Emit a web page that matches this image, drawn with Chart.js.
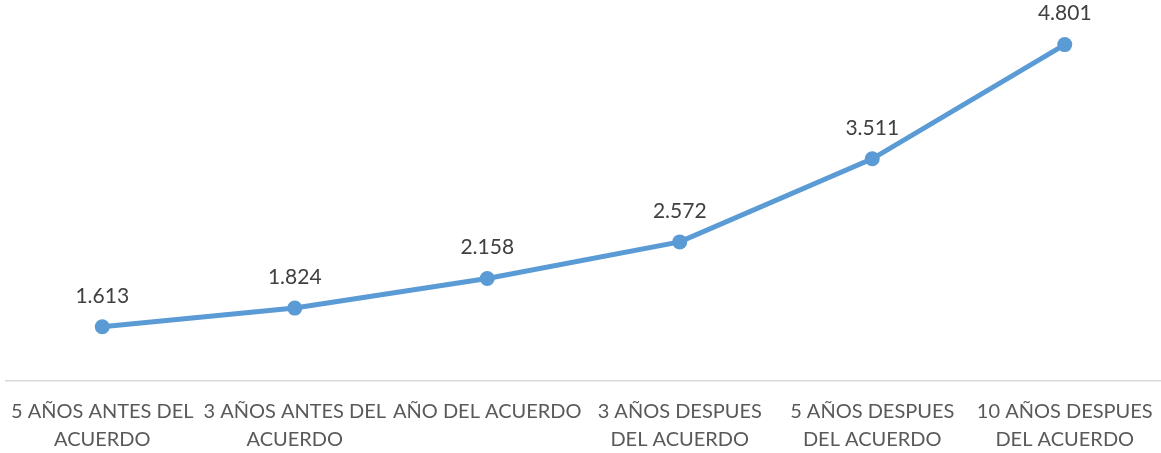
<!DOCTYPE html>
<html>
<head>
<meta charset="utf-8">
<script src="https://cdn.jsdelivr.net/npm/chart.js@4/dist/chart.umd.min.js"></script>
<style>
html,body{margin:0;padding:0;background:#fff;overflow:hidden;}
#wrap{width:1161px;height:453px;position:relative;}
canvas{display:block;}
</style>
</head>
<body>
<div id="wrap"><canvas id="c"></canvas></div>
<script>
const categories = [
  ["5 AÑOS ANTES DEL", "ACUERDO"],
  ["3 AÑOS ANTES DEL", "ACUERDO"],
  ["AÑO DEL ACUERDO"],
  ["3 AÑOS DESPUES", "DEL ACUERDO"],
  ["5 AÑOS DESPUES", "DEL ACUERDO"],
  ["10 AÑOS DESPUES", "DEL ACUERDO"]
];
const values = [1.613, 1.824, 2.158, 2.572, 3.511, 4.801];
const valueLabels = ["1.613", "1.824", "2.158", "2.572", "3.511", "4.801"];

const FONT = "Lato, 'Open Sans', sans-serif";

const labelPlugin = {
  id: 'pointLabels',
  afterDatasetsDraw(chart) {
    const ctx = chart.ctx;
    const meta = chart.getDatasetMeta(0);
    ctx.save();
    ctx.font = "21px " + FONT;
    ctx.fillStyle = "#404040";
    ctx.textAlign = "center";
    ctx.textBaseline = "middle";
    meta.data.forEach((pt, i) => {
      ctx.fillText(valueLabels[i], pt.x, pt.y - 31);
    });
    ctx.restore();
  }
};

new Chart(document.getElementById('c'), {
  type: 'line',
  data: {
    labels: categories,
    datasets: [{
      data: values,
      borderColor: '#5B9BD5',
      backgroundColor: '#5B9BD5',
      borderWidth: 5,
      pointRadius: 7.5,
      pointHoverRadius: 7.5,
      pointBackgroundColor: '#5B9BD5',
      pointBorderColor: '#5B9BD5',
      pointBorderWidth: 0,
      tension: 0,
      fill: false,
      clip: false
    }]
  },
  options: {
    responsive: true,
    maintainAspectRatio: false,
    animation: false,
    events: [],
    layout: { autoPadding: false, padding: { top: 27, left: 6, right: 0, bottom: 0 } },
    plugins: { legend: { display: false }, tooltip: { enabled: false } },
    scales: {
      x: {
        offset: true,
        grid: { display: false, drawTicks: false },
        border: { display: true, color: '#D9D9D9', width: 1.5 },
        afterFit(scale) {
          scale.height = 72;
          scale.paddingLeft = 0;
          scale.paddingRight = 0;
        },
        ticks: {
          autoSkip: false,
          maxRotation: 0,
          minRotation: 0,
          padding: 17,
          color: '#595959',
          font: { family: FONT, size: 20, lineHeight: 1.4 }
        }
      },
      y: {
        display: false,
        min: 1,
        max: 5
      }
    }
  },
  plugins: [labelPlugin]
});
</script>
</body>
</html>
